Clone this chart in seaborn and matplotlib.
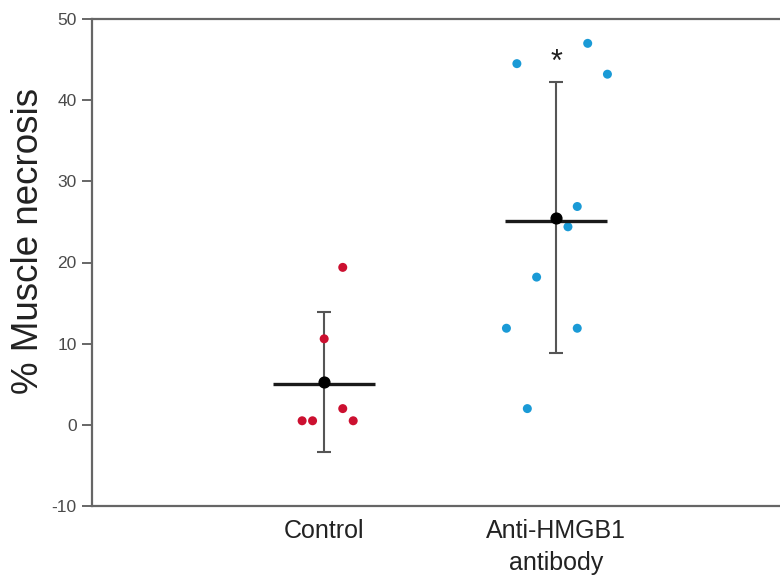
import matplotlib
matplotlib.use("Agg")
import matplotlib.pyplot as plt
import seaborn as sns
import pandas as pd
import numpy as np

# ---- data ----
categories = ["Control", "Anti-HMGB1\nantibody"]
control_values = [19.4, 10.6, 0.5, 0.5, 2.0, 0.5]
control_jitter = [0.08, 0.0, -0.095, -0.05, 0.08, 0.125]
anti_values = [44.5, 47.0, 43.2, 26.9, 24.4, 18.2, 11.9, 11.9, 2.0]
anti_jitter = [-0.17, 0.135, 0.22, 0.09, 0.05, -0.085, -0.215, 0.09, -0.125]
mean_line = [5.0, 25.1]
mean_dot = [5.3, 25.5]
sd_values = [8.65, 16.7]
star_value = 44.6
yticks = [-10, 0, 10, 20, 30, 40, 50]

sns.set_style("white")
plt.rcParams["font.family"] = ["Liberation Sans", "DejaVu Sans"]

df = pd.DataFrame({
    "group": ["Control"] * len(control_values) + ["Anti"] * len(anti_values),
    "pos": [0 + j for j in control_jitter] + [1 + j for j in anti_jitter],
    "value": control_values + anti_values,
})

fig = plt.figure(figsize=(7.8, 5.8), dpi=100)
ax = fig.add_axes([92 / 780, 1 - 506 / 580, 1 - 92 / 780 + 0.002, (506 - 19) / 580])

sns.scatterplot(data=df, x="pos", y="value", hue="group",
                palette={"Control": "#cc1030", "Anti": "#1a9ad6"},
                s=42, edgecolor="none", legend=False, ax=ax, zorder=3)

idx = np.arange(len(categories))
ax.errorbar(idx, mean_dot, yerr=sd_values, fmt="none", ecolor="#555555",
            elinewidth=1.5, capsize=5, capthick=1.5, zorder=2)
ax.hlines(mean_line, idx - 0.22, idx + 0.22, colors="#1a1a1a", linewidth=2.4, zorder=4)
ax.scatter(idx, mean_dot, s=60, color="black", zorder=5)
ax.text(1, star_value, "*", ha="center", va="center", fontsize=22, color="#222222")

ax.set_xlim(-1, 1.97)
ax.set_ylim(-10, 50)
ax.set_yticks(yticks)
ax.set_yticklabels([str(t) for t in yticks], fontsize=12.5, color="#4a4a4a")
ax.set_xticks(idx)
ax.set_xticklabels(categories, fontsize=18, color="#222222", linespacing=1.45)
ax.tick_params(axis="x", length=0, pad=9)
ax.tick_params(axis="y", direction="out", length=7, width=1.4, color="#666666", pad=4, left=True)
ax.set_xlabel("")
ax.set_ylabel("% Muscle necrosis", fontsize=26.5, color="#222222")
ax.yaxis.set_label_coords(-0.066, 0.544)

for side in ["left", "top", "bottom"]:
    ax.spines[side].set_visible(True)
    ax.spines[side].set_color("#666666")
    ax.spines[side].set_linewidth(1.6)
ax.spines["right"].set_visible(False)

fig.savefig("out.png", dpi=100)
